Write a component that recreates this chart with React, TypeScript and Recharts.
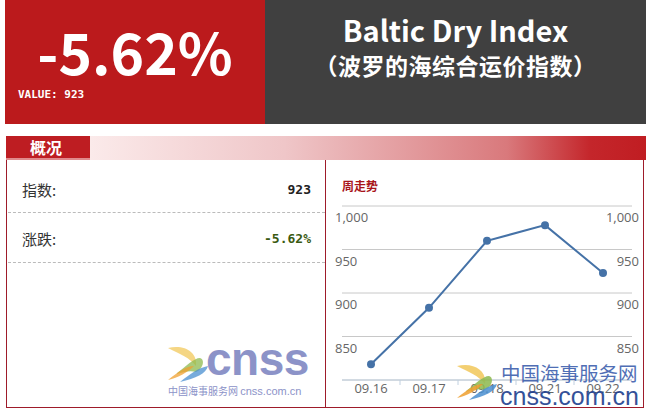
import React from "react";
import { LineChart, Line, XAxis, YAxis, CartesianGrid } from "recharts";

// 周走势 — BDI 一周走势
const dates = ["09.16", "09.17", "09.18", "09.21", "09.22"];
const values = [818, 883, 960, 978, 923];
const yTicks = [800, 850, 900, 950, 1000];

const rows = dates.map((d, i) => ({ date: d, bdi: values[i] }));

const CJK = '"Noto Sans CJK SC", "Noto Sans", sans-serif';
const MONO = '"DejaVu Sans Mono", "Liberation Mono", monospace';
const AXIS_FONT = '"Open Sans", "DejaVu Sans", sans-serif';
const ARIAL = '"Liberation Sans", Arial, sans-serif';

const fmt = (v: number) => v.toLocaleString("en-US");

// Highcharts 风格：标签在网格线下方，左右两侧同一刻度，最底下的 800 不显示
function ValueTick(props: any) {
  const { y, payload } = props;
  if (payload.value === 800) return null;
  const common = { y: y + 11, dominantBaseline: "central" as const, fill: "#666", fontSize: 13, fontFamily: AXIS_FONT };
  return (
    <g>
      <text x={5} textAnchor="start" {...common}>
        {fmt(payload.value)}
      </text>
      <text x={309} textAnchor="end" {...common}>
        {fmt(payload.value)}
      </text>
    </g>
  );
}

function DateTick(props: any) {
  const { x, y, payload, index } = props;
  return (
    <g>
      {index < dates.length - 1 && <line x1={x + 29} x2={x + 29} y1={y} y2={y + 5} stroke="#C0D0E0" />}
      <text x={x} y={y + 8} dominantBaseline="central" textAnchor="middle" fill="#666" fontSize={13} fontFamily={AXIS_FONT}>
        {payload.value}
      </text>
    </g>
  );
}

function WeekChart() {
  return (
    <LineChart width={316} height={236} data={rows} margin={{ top: 36, right: 14, bottom: 0, left: 11 }}>
      <CartesianGrid stroke="#C8C8C8" vertical={false} />
      <XAxis
        dataKey="date"
        height={26}
        padding={{ left: 29, right: 29 }}
        stroke="#C0D0E0"
        tickLine={false}
        tickSize={0}
        tickMargin={0}
        tick={<DateTick />}
        interval={0}
      />
      <YAxis domain={[800, 1000]} ticks={yTicks} interval={0} width={1} axisLine={false} tickLine={false} tick={<ValueTick />} />
      <Line
        dataKey="bdi"
        stroke="#4572A7"
        strokeWidth={2}
        dot={{ r: 4, fill: "#4572A7", stroke: "#4572A7", strokeWidth: 0 }}
        isAnimationActive={false}
      />
    </LineChart>
  );
}

function Logo({ small }: { small?: boolean }) {
  const o = small ? 0.75 : 0.9;
  return (
    <svg width={46} height={40} viewBox="0 0 46 40">
      <path d="M2 4 C18 0 32 8 30 22 C24 14 14 10 2 4 Z" fill="#F2C85B" opacity={o} />
      <path d="M10 30 C20 22 28 14 34 14 C40 16 36 26 30 28 C24 26 18 28 10 30 Z" fill="#8DB94E" opacity={o} />
      <path d="M14 38 C24 30 32 24 42 22 C40 30 30 34 14 38 Z" fill="#4A8FD0" opacity={o} />
      <path d="M2 36 C12 28 20 22 28 22 C22 28 12 34 2 36 Z" fill="#F0A030" opacity={o} />
    </svg>
  );
}

export default function App() {
  return (
    <div style={{ position: "fixed", left: 0, top: 0, width: 646, height: 411, background: "#fff", overflow: "hidden", fontFamily: CJK }}>
      {/* 顶部 */}
      <div style={{ position: "absolute", left: 5, top: 0, width: 260, height: 124, background: "#BB1A1C" }}>
        <div style={{ position: "absolute", left: 0, width: 260, top: 16, textAlign: "center", color: "#fff", fontSize: 57, fontWeight: 700, lineHeight: "68px" }}>
          -5.62%
        </div>
        <div style={{ position: "absolute", left: 13, top: 88, color: "#fff", fontSize: 11, fontWeight: 700, fontFamily: MONO }}>
          VALUE: 923
        </div>
      </div>
      <div style={{ position: "absolute", left: 265, top: 0, width: 381, height: 124, background: "#404040", color: "#fff", textAlign: "center", fontWeight: 700 }}>
        <div style={{ position: "absolute", left: 0, width: 381, top: 10, fontSize: 29, lineHeight: "38px" }}>Baltic Dry Index</div>
        <div style={{ position: "absolute", left: 0, width: 381, top: 48, fontSize: 23, lineHeight: "34px", letterSpacing: 0.5 }}>（波罗的海综合运价指数）</div>
      </div>

      {/* 概况 标签栏 */}
      <div
        style={{
          position: "absolute",
          left: 90,
          top: 136,
          width: 556,
          height: 24,
          background: "linear-gradient(90deg, #fbeaea 0%, #efc6c8 35%, #d9797c 75%, #c4262b 90%, #c01d22 100%)",
        }}
      />
      <div style={{ position: "absolute", left: 6, top: 136, width: 84, height: 22, background: "#BE1D22", color: "#fff", fontWeight: 700, fontSize: 16, lineHeight: "22px", paddingLeft: 24, boxSizing: "border-box" }}>
        概况
      </div>
      <div style={{ position: "absolute", left: 6, top: 158, width: 84, height: 2, background: "#E08A8C" }} />

      {/* 内容框 */}
      <div style={{ position: "absolute", left: 6, top: 160, width: 638, height: 248, border: "1px solid #9E1B2A", borderTop: "none", boxSizing: "border-box" }} />
      <div style={{ position: "absolute", left: 325, top: 160, width: 1, height: 248, background: "#9E1B2A" }} />

      {/* 左侧 数据 */}
      <div style={{ position: "absolute", left: 22, top: 179, fontSize: 15, color: "#333", lineHeight: "22px" }}>指数:</div>
      <div style={{ position: "absolute", right: 646 - 311, top: 180, fontSize: 13, color: "#222", fontWeight: 700, fontFamily: MONO, lineHeight: "20px" }}>923</div>
      <div style={{ position: "absolute", left: 8, top: 212, width: 317, borderTop: "1px dashed #bbb" }} />
      <div style={{ position: "absolute", left: 22, top: 228, fontSize: 15, color: "#333", lineHeight: "22px" }}>涨跌:</div>
      <div style={{ position: "absolute", right: 646 - 311, top: 229, fontSize: 13, color: "#3A5A12", fontWeight: 700, fontFamily: MONO, lineHeight: "20px" }}>-5.62%</div>
      <div style={{ position: "absolute", left: 8, top: 262, width: 317, borderTop: "1px dashed #bbb" }} />

      {/* 左侧水印 */}
      <div style={{ position: "absolute", left: 166, top: 344 }}>
        <Logo small />
      </div>
      <div style={{ position: "absolute", left: 206, top: 334, fontSize: 46, fontWeight: 700, color: "#8C93C8", fontFamily: ARIAL, lineHeight: "50px", letterSpacing: -0.5 }}>
        cnss
      </div>
      <div style={{ position: "absolute", left: 168, top: 384, fontSize: 10, color: "#8C93C8", lineHeight: "14px", whiteSpace: "nowrap" }}>
        中国海事服务网 <span style={{ fontFamily: ARIAL, fontSize: 11 }}>cnss.com.cn</span>
      </div>

      {/* 周走势 */}
      <div style={{ position: "absolute", left: 342, top: 177, fontSize: 12, fontWeight: 700, color: "#A81419", lineHeight: "18px" }}>周走势</div>
      <div style={{ position: "absolute", left: 330, top: 170 }}>
        <WeekChart />
      </div>

      {/* 右侧水印 */}
      <div style={{ position: "absolute", left: 455, top: 362, opacity: 0.95 }}>
        <Logo />
      </div>
      <div style={{ position: "absolute", left: 501, top: 361, fontSize: 19.5, color: "#3E5FAE", lineHeight: "24px", whiteSpace: "nowrap", opacity: 0.9 }}>
        中国海事服务网
      </div>
      <div style={{ position: "absolute", left: 500, top: 382, fontSize: 25, color: "#1E3F8E", lineHeight: "28px", fontFamily: ARIAL, whiteSpace: "nowrap", opacity: 0.9 }}>
        cnss.com.cn
      </div>
    </div>
  );
}
